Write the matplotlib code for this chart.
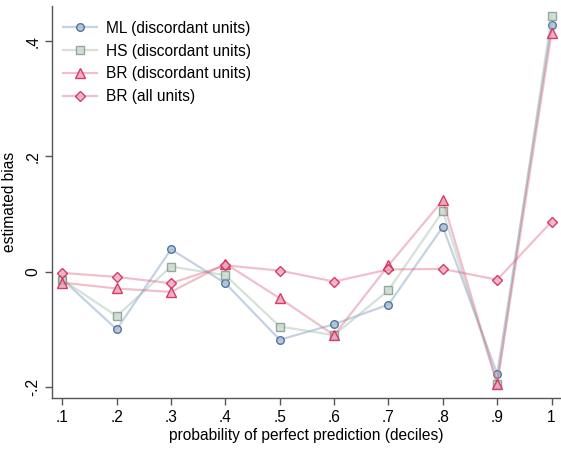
import matplotlib
matplotlib.use("Agg")
import matplotlib.pyplot as plt

deciles = [0.1, 0.2, 0.3, 0.4, 0.5, 0.6, 0.7, 0.8, 0.9, 1.0]
tick_labels_x = [".1", ".2", ".3", ".4", ".5", ".6", ".7", ".8", ".9", "1"]
ml_disc = [-0.013, -0.100, 0.039, -0.020, -0.118, -0.091, -0.057, 0.078, -0.177, 0.428]
hs_disc = [-0.014, -0.077, 0.009, -0.006, -0.095, -0.110, -0.032, 0.105, -0.194, 0.444]
br_disc = [-0.019, -0.029, -0.035, 0.014, -0.046, -0.110, 0.011, 0.124, -0.194, 0.415]
br_all = [-0.002, -0.009, -0.020, 0.011, 0.002, -0.017, 0.004, 0.005, -0.014, 0.087]
yticks = [-0.2, 0.0, 0.2, 0.4]
tick_labels_y = ["-.2", "0", ".2", ".4"]

plt.rcParams["font.family"] = ["Liberation Sans", "DejaVu Sans"]

fig = plt.figure(figsize=(5.61, 4.5), dpi=100)
ax = fig.add_axes([0.0927, 0.1156, 0.905, 0.871])

series = [
    (ml_disc, "ML (discordant units)", "o", 5.5,
     (0.45, 0.58, 0.72, 0.42), (0.24, 0.38, 0.56, 0.85), (0.66, 0.74, 0.83, 0.8)),
    (hs_disc, "HS (discordant units)", "s", 5.5,
     (0.62, 0.72, 0.66, 0.42), (0.50, 0.62, 0.55, 0.85), (0.80, 0.85, 0.81, 0.8)),
    (br_disc, "BR (discordant units)", "^", 6.5,
     (0.86, 0.35, 0.48, 0.38), (0.82, 0.17, 0.36, 0.9), (0.92, 0.62, 0.70, 0.8)),
    (br_all, "BR (all units)", "D", 5.5,
     (0.86, 0.35, 0.48, 0.38), (0.82, 0.17, 0.36, 0.9), (0.94, 0.68, 0.75, 0.8)),
]

for vals, label, mk, ms, lc, mec, mfc in series:
    ax.plot(deciles, vals, color=lc, linewidth=1.6, marker=mk, markersize=ms,
            markeredgecolor=mec, markerfacecolor=mfc, markeredgewidth=1.0,
            label=label)

ax.set_xlim(0.081, 1.015)
ax.set_ylim(-0.219, 0.461)
ax.set_xticks(deciles)
ax.set_xticklabels(tick_labels_x)
ax.set_yticks(yticks)
ax.set_yticklabels(tick_labels_y, rotation=90, va="center")

for side in ("top", "right"):
    ax.spines[side].set_visible(False)
for side in ("left", "bottom"):
    ax.spines[side].set_color("#555555")
    ax.spines[side].set_linewidth(1.0)

ax.tick_params(axis="both", labelsize=11.2, length=5, color="#555555", width=1.0)
ax.set_xlabel("probability of perfect prediction (deciles)", fontsize=11.2, labelpad=2)
ax.set_ylabel("estimated bias", fontsize=11.2, labelpad=6)

leg = ax.legend(loc="upper left", frameon=False, fontsize=11.2, handlelength=2.2,
                labelspacing=0.5, borderaxespad=0.3, bbox_to_anchor=(0.0, 0.99),
                handletextpad=0.6)

fig.savefig("out.png", dpi=100)
